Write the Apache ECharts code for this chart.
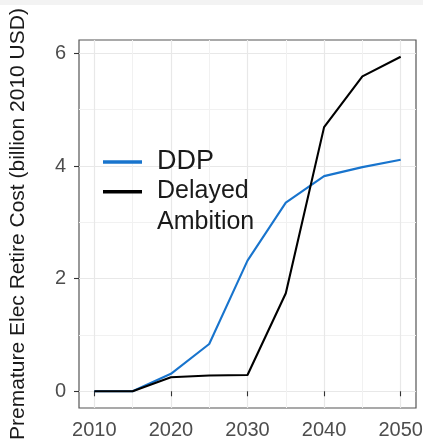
<!DOCTYPE html>
<html>
<head>
<meta charset="utf-8">
<script src="https://cdn.jsdelivr.net/npm/echarts@6/dist/echarts.min.js"></script>
<style>
html,body{margin:0;padding:0;background:#fff;}
#chart{width:423px;height:443px;}
</style>
</head>
<body>
<div id="chart"></div>
<script>
const years = [2010, 2015, 2020, 2025, 2030, 2035, 2040, 2045, 2050];
const ddp = [0, 0, 0.31, 0.84, 2.32, 3.35, 3.82, 3.98, 4.11];
const delayedAmbition = [0, 0, 0.25, 0.28, 0.29, 1.74, 4.69, 5.59, 5.94];
const xTicks = [2010, 2020, 2030, 2040, 2050];
const yTicks = [0, 2, 4, 6];
const seriesNames = ['DDP', 'Delayed Ambition'];
const yTitle = 'Premature Elec Retire Cost (billion 2010 USD)';

const FONT = "'Liberation Sans', Arial, sans-serif";
const xSpan = years[years.length - 1] - years[0];
const xMin = years[0] - 0.05 * xSpan, xMax = years[years.length - 1] + 0.05 * xSpan;
const allY = ddp.concat(delayedAmbition);
const yLo = Math.min(...allY), yHi = Math.max(...allY);
const yMin = yLo - 0.05 * (yHi - yLo), yMax = yHi + 0.05 * (yHi - yLo);

const chart = echarts.init(document.getElementById('chart'), null, {renderer: 'canvas'});
chart.setOption({
  animation: false,
  backgroundColor: '#ffffff',
  graphic: [{type: 'rect', left: 0, top: 0, shape: {width: 423, height: 5}, style: {fill: '#f3f3f3'}, silent: true, z: -10}],
  grid: {left: 79, right: 7, top: 40, bottom: 35, show: true, borderColor: '#555555', borderWidth: 1.2, backgroundColor: 'transparent', outerBoundsMode: 'none', containLabel: false},
  legend: [{
    data: [seriesNames[0]], orient: 'vertical', left: 103, top: 147, padding: 0,
    icon: 'rect', itemWidth: 39, itemHeight: 3.4,
    textStyle: {fontFamily: FONT, fontSize: 27, color: '#1a1a1a', lineHeight: 30, padding: [0, 0, 0, 10]}
  }, {
    data: [seriesNames[1]], orient: 'vertical', left: 103, top: 176, padding: 0,
    icon: 'path://M0,0L39,0L39,3.4L0,3.4Z M0,34L0.001,34', itemWidth: 39, itemHeight: 34,
    formatter: function (n) { return n.replace(' ', '\n'); },
    textStyle: {fontFamily: FONT, fontSize: 25, color: '#1a1a1a', lineHeight: 31, padding: [0, 0, 0, 10]}
  }],
  xAxis: {
    type: 'value', min: xMin, max: xMax, splitNumber: 4,
    axisLine: {show: false},
    axisTick: {show: true, length: 5, lineStyle: {color: '#333', width: 1.1}, customValues: xTicks},
    axisLabel: {customValues: xTicks, color: '#4d4d4d', fontSize: 20, fontFamily: FONT, margin: 12, formatter: function (v) { return String(v); }},
    splitLine: {show: true, lineStyle: {color: '#e8e8e8', width: 1.2}},
    minorTick: {show: false, splitNumber: 2},
    minorSplitLine: {show: true, lineStyle: {color: '#f1f1f1', width: 1}}
  },
  yAxis: {
    type: 'value', min: yMin, max: yMax, splitNumber: 3,
    name: yTitle, nameLocation: 'middle', nameRotate: 90, nameGap: 50,
    nameTextStyle: {fontFamily: FONT, fontSize: 21, color: '#1a1a1a'},
    axisLine: {show: false},
    axisTick: {show: true, length: 5, lineStyle: {color: '#333', width: 1.1}, customValues: yTicks},
    axisLabel: {customValues: yTicks, color: '#4d4d4d', fontSize: 20, fontFamily: FONT, margin: 13, formatter: function (v) { return String(v); }},
    splitLine: {show: true, lineStyle: {color: '#e8e8e8', width: 1.2}},
    minorTick: {show: false, splitNumber: 2},
    minorSplitLine: {show: true, lineStyle: {color: '#f1f1f1', width: 1}}
  },
  series: [{
    name: seriesNames[0], type: 'line', showSymbol: false, symbol: 'none',
    data: years.map((y, i) => [y, ddp[i]]),
    itemStyle: {color: '#1874CD'}, lineStyle: {color: '#1874CD', width: 2.1}, z: 2
  }, {
    name: seriesNames[1], type: 'line', showSymbol: false, symbol: 'none',
    data: years.map((y, i) => [y, delayedAmbition[i]]),
    itemStyle: {color: '#000000'}, lineStyle: {color: '#000000', width: 2.1}, z: 3
  }]
});
</script>
</body>
</html>
